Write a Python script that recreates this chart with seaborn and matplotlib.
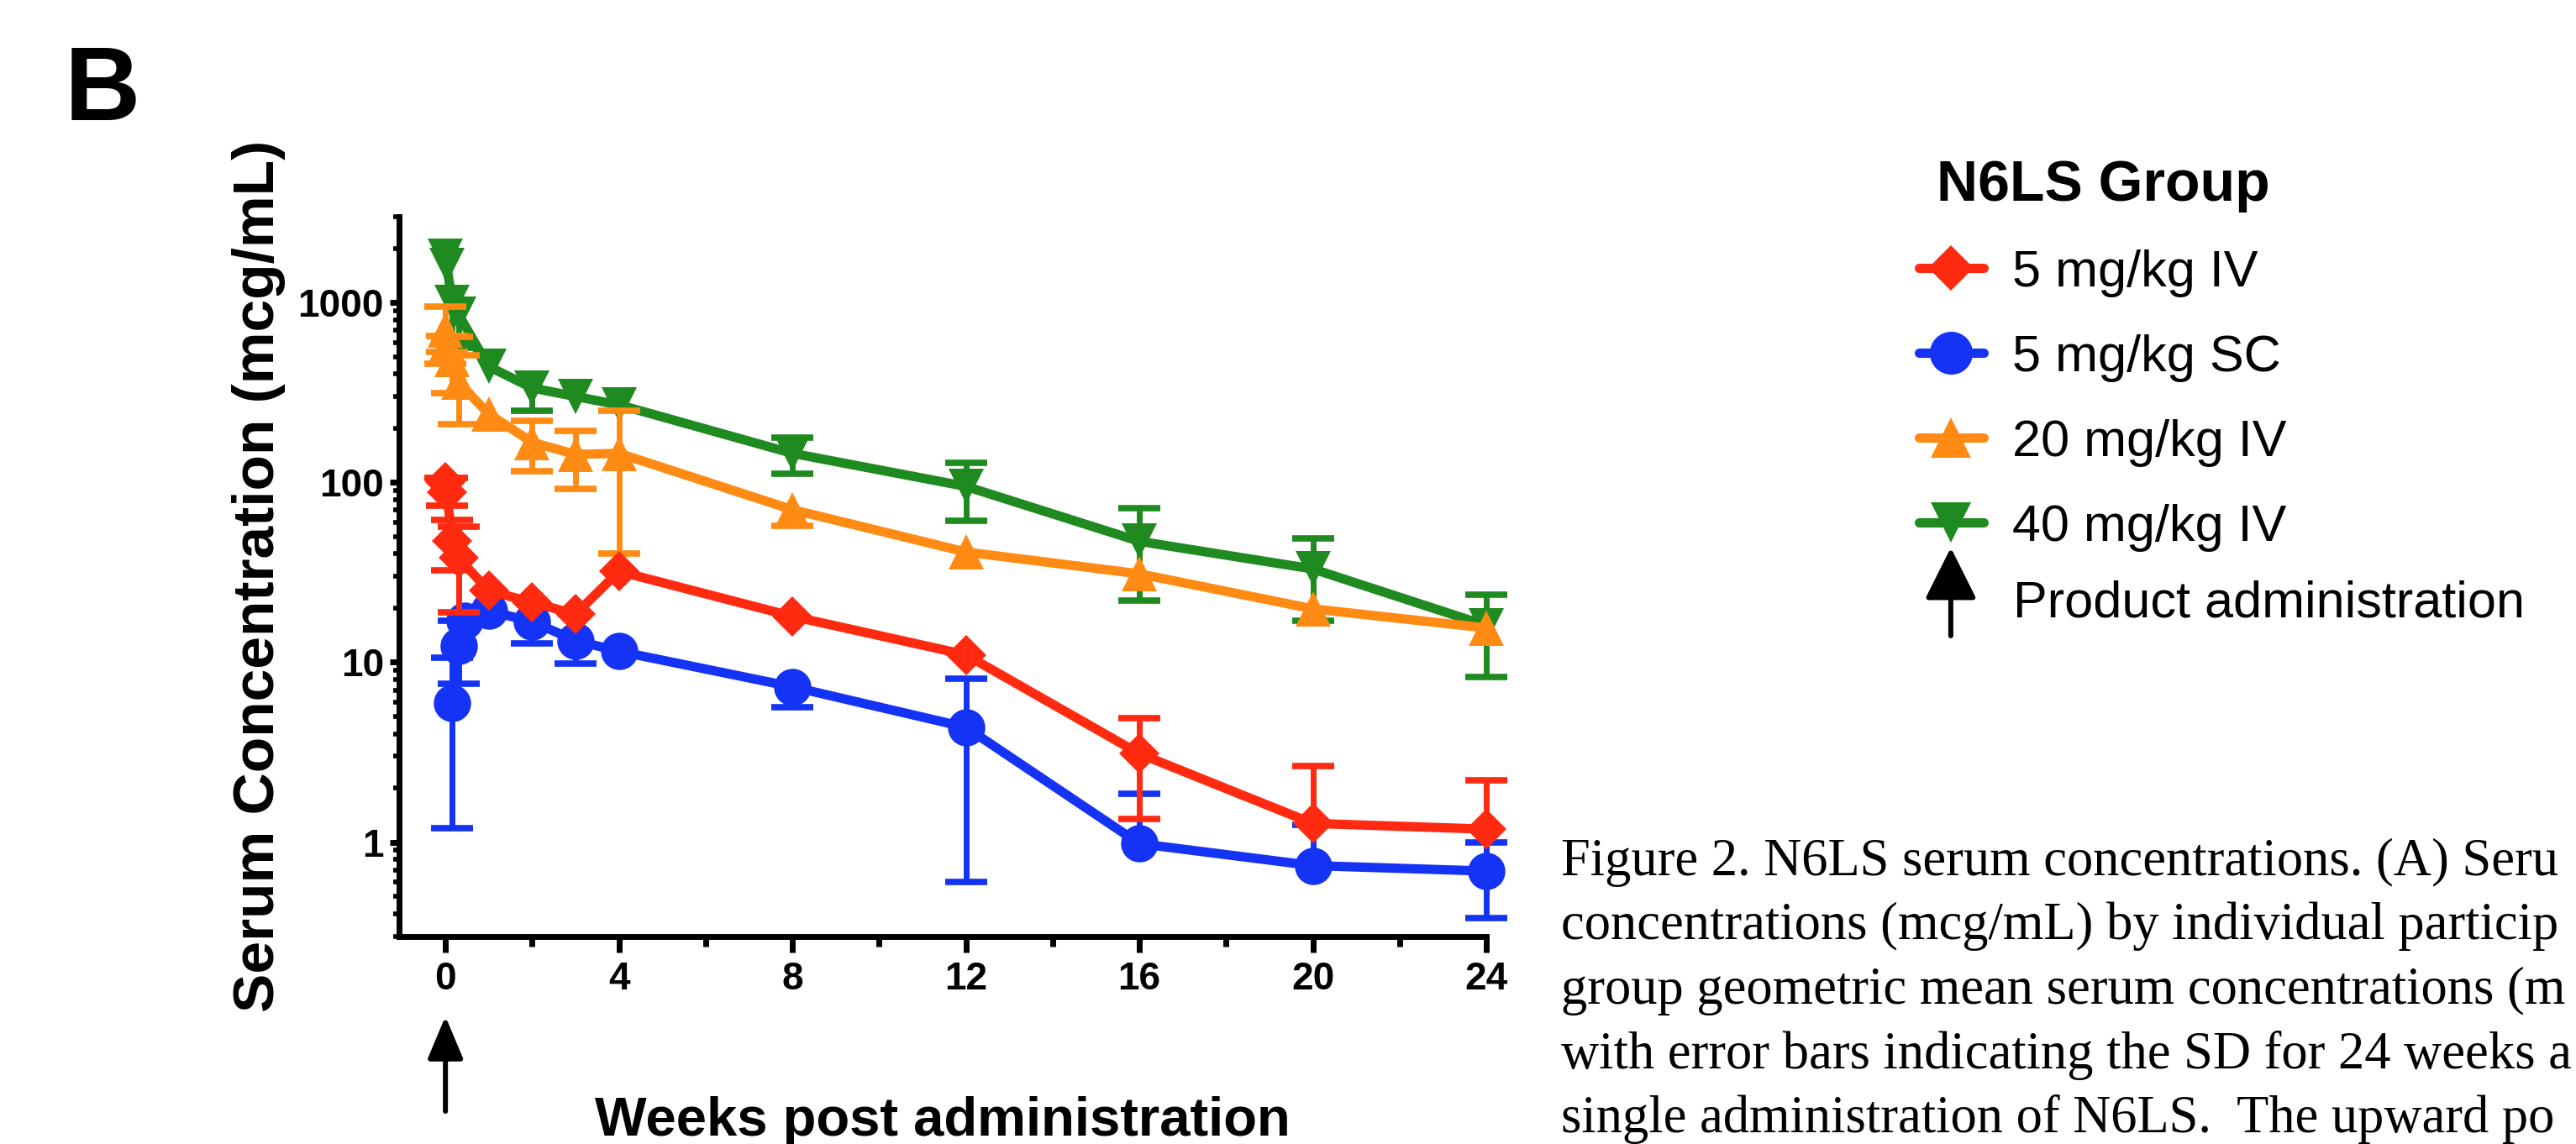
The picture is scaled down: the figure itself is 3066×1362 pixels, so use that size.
import numpy as np
import pandas as pd
import seaborn as sns
from matplotlib import pyplot as plt
from matplotlib.lines import Line2D
from matplotlib.patches import FancyArrowPatch
from matplotlib.ticker import FixedLocator, LogLocator, NullFormatter

# sampling times (weeks post administration)
weeks_iv = [0.0, 0.03, 0.16, 0.3, 1, 2, 3, 4, 8, 12, 16, 20, 24]
weeks_sc = [0.16, 0.3, 0.45, 1, 2, 3, 4, 8, 12, 16, 20, 24]

# geometric mean serum concentration (mcg/mL)
# err_up / err_lo: visible SD bar above / below the point (0 = no bar shown)
iv5_mean = [100, 88, 47, 38, 25, 21.5, 18.5, 32, 18, 11, 3.1, 1.27, 1.18]
iv5_up = [6, 18, 14.5, 19, 0, 0, 0, 0, 0, 0, 1.8, 1.37, 1.02]
iv5_lo = [0, 14, 14.5, 19, 0, 0, 0, 0, 0, 0, 1.75, 0, 0]

sc5_mean = [5.9, 12.3, 17, 19.3, 16.8, 13.2, 11.5, 7.3, 4.35, 0.98, 0.74, 0.69]
sc5_up = [4.7, 4.7, 0, 0, 0, 0, 0, 0, 3.75, 0.87, 0.51, 0.31]
sc5_lo = [4.7, 4.7, 0, 0, 4.1, 3.4, 0, 1.7, 3.75, 0, 0, 0.31]

iv20_mean = [700, 590, 480, 360, 240, 167, 143, 145, 70.5, 41, 31, 19.8, 15.5]
iv20_up = [244, 58, 165, 150, 0, 52, 51, 105, 0, 0, 0, 0, 0]
iv20_lo = [244, 58, 165, 150, 0, 52, 51, 105, 13, 0, 0, 0, 0]

iv40_mean = [1800, 1600, 1000, 860, 440, 335, 300, 270, 145, 95, 47, 33, 16]
iv40_up = [0, 0, 0, 0, 0, 0, 0, 0, 33, 34, 25, 16, 7.7]
iv40_lo = [0, 0, 400, 300, 0, 85, 0, 0, 33, 34, 25, 16, 7.7]

group_names = ["5 mg/kg IV", "5 mg/kg SC", "20 mg/kg IV", "40 mg/kg IV"]
group_colors = ["#FF2A10", "#1533F5", "#FF8A14", "#1F8A1F"]
group_markers = ["D", "o", "^", "v"]
marker_sizes = [24, 32, 30, 30]

x_ticks = [0, 4, 8, 12, 16, 20, 24]
y_ticks = [1, 10, 100, 1000]
y_min, y_max = 0.3, 3000

caption_lines = [
    "Figure 2. N6LS serum concentrations. (A) Seru",
    "concentrations (mcg/mL) by individual particip",
    "group geometric mean serum concentrations (m",
    "with error bars indicating the SD for 24 weeks a",
    "single administration of N6LS.  The upward po",
]

sns.set_style("ticks")
plt.rcParams["font.family"] = ["Liberation Sans", "DejaVu Sans"]
plt.rcParams.update({"text.color": "black", "axes.labelcolor": "black",
                     "axes.edgecolor": "black", "xtick.color": "black",
                     "ytick.color": "black"})

fig = plt.figure(figsize=(30.66, 13.62), dpi=100)
ax = fig.add_axes([0.1549, 0.1817, 0.4221, 0.6289])
ax.set_yscale("log")

series = [
    (weeks_iv, iv5_mean, iv5_up, iv5_lo),
    (weeks_sc, sc5_mean, sc5_up, sc5_lo),
    (weeks_iv, iv20_mean, iv20_up, iv20_lo),
    (weeks_iv, iv40_mean, iv40_up, iv40_lo),
]

# green at the bottom, red on top
for rank, idx in enumerate([3, 2, 1, 0]):
    wk, mean, up, lo = (np.asarray(a, dtype=float) for a in series[idx])
    color = group_colors[idx]
    z = 2 + 2 * rank
    for err, sign in [(up, 1), (lo, -1)]:
        m = err > 0
        ends = mean[m] + sign * err[m]
        ax.vlines(wk[m], mean[m], ends, color=color, linewidth=5,
                  zorder=z, clip_on=False)
        ax.plot(wk[m], ends, linestyle="none", marker="_", markersize=36,
                markeredgewidth=5.5, color=color, zorder=z, clip_on=False)
    df = pd.DataFrame({"week": wk, "conc": mean})
    sns.lineplot(data=df, x="week", y="conc", ax=ax, color=color,
                 marker=group_markers[idx], markersize=marker_sizes[idx],
                 markeredgewidth=0, linewidth=8, errorbar=None,
                 legend=False, zorder=z + 1, clip_on=False)

ax.set_xlim(-1.07, 24)
ax.set_ylim(y_min, y_max)

ax.xaxis.set_major_locator(FixedLocator(x_ticks))
ax.xaxis.set_minor_locator(FixedLocator([t + 2 for t in x_ticks[:-1]]))
ax.set_xticklabels([str(t) for t in x_ticks])
ax.yaxis.set_major_locator(FixedLocator(y_ticks))
ax.set_yticklabels([str(t) for t in y_ticks])
ax.yaxis.set_minor_locator(LogLocator(base=10, subs=np.arange(2, 10), numticks=20))
ax.yaxis.set_minor_formatter(NullFormatter())

sns.despine(ax=ax)
for side in ["left", "bottom"]:
    ax.spines[side].set_linewidth(5)
ax.tick_params(axis="x", which="major", length=13.5, width=5, pad=8, labelsize=33)
ax.tick_params(axis="x", which="minor", length=8.5, width=5)
ax.tick_params(axis="y", which="major", length=8, width=5, pad=5, labelsize=33)
ax.tick_params(axis="y", which="minor", length=5, width=4)
for lab in ax.get_xticklabels() + ax.get_yticklabels():
    lab.set_fontweight("bold")

ax.set_xlabel("Weeks post administration", fontsize=47, fontweight="bold")
ax.xaxis.set_label_coords(0.5, -0.222)
ax.set_ylabel("Serum Concentration (mcg/mL)", fontsize=50, fontweight="bold")
ax.yaxis.set_label_coords(-0.104, 0.5)

# product administration arrow under week 0
arrow_style = dict(arrowstyle="-|>,head_length=1.0,head_width=0.42",
                   color="black", lw=4.3, mutation_scale=31,
                   shrinkA=0, shrinkB=0)
ax.annotate("", xy=(0, 0.1116), xycoords=("data", "figure fraction"),
            xytext=(0, 0.0286), textcoords=("data", "figure fraction"),
            arrowprops=arrow_style, annotation_clip=False)

fig.text(0.0251, 0.895, "B", fontsize=90, fontweight="bold", ha="left", va="baseline")

# legend
handles = [Line2D([], [], color=group_colors[i], marker=group_markers[i],
                  markersize=marker_sizes[i] * 1.15, markeredgewidth=0,
                  linewidth=8, solid_capstyle="round") for i in range(4)]
fig.legend(handles, group_names, title="N6LS Group", loc="upper left",
           bbox_to_anchor=(0.745, 0.8615), frameon=False, fontsize=44,
           title_fontproperties={"weight": "bold", "size": 49},
           handlelength=1.25, handletextpad=0.57, labelspacing=0.72,
           borderpad=0, borderaxespad=0)

fig.add_artist(FancyArrowPatch(
    (0.7573, 0.4442), (0.7573, 0.5213), transform=fig.transFigure,
    arrowstyle="-|>,head_length=1.0,head_width=0.5", mutation_scale=38,
    color="black", lw=4.3, shrinkA=0, shrinkB=0))
fig.text(0.7815, 1 - 719 / 1362, "Product administration", fontsize=44,
         va="center", ha="left")

# caption fragment on the right
for i, line in enumerate(caption_lines):
    fig.text(1858 / 3066, 1 - (1041.7 + i * 76.6) / 1362, line,
             fontsize=45, family=["Liberation Serif", "DejaVu Serif"],
             ha="left", va="baseline")

fig.savefig("out.png", dpi=100, facecolor="white")
